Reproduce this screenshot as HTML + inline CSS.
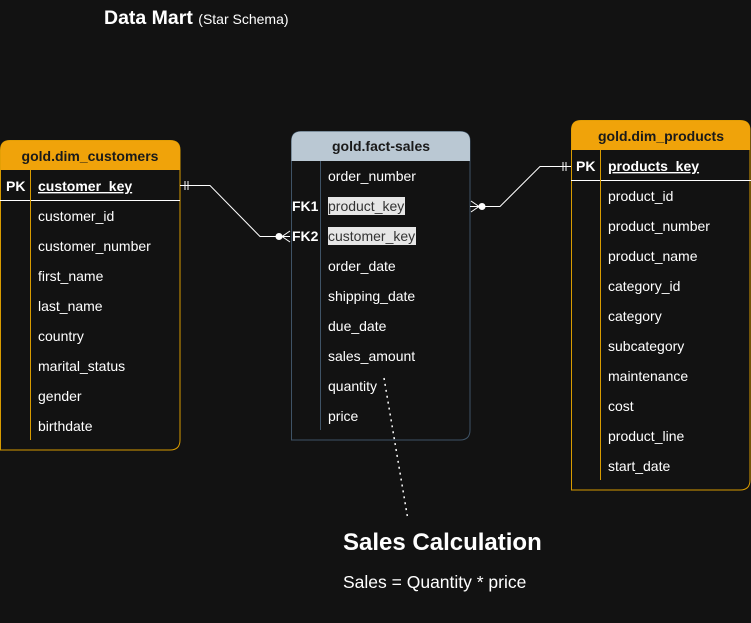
<!DOCTYPE html>
<html><head><meta charset="utf-8"><style>
html,body{margin:0;padding:0;background:#121212;}
svg{display:block;font-family:"Liberation Sans",Arial,sans-serif;}
</style></head><body>
<svg width="751" height="623" viewBox="0 0 751 623" xmlns="http://www.w3.org/2000/svg">
<rect width="751" height="623" fill="#121212"/>
<text x="104" y="24" fill="#fff" font-size="19.5" font-weight="bold">Data Mart <tspan font-size="14" font-weight="normal">(Star Schema)</tspan></text>

<!-- customers -->
<path d="M0.5 450 L0.5 150 Q0.5 140.5 10 140.5 L170 140.5 Q180 140.5 180 150 L180 440 Q180 450 170 450 Z" fill="#121212" stroke="#D79B00" stroke-width="1"/>
<path d="M0.5 170 L0.5 150 Q0.5 140.5 10 140.5 L170 140.5 Q180 140.5 180 150 L180 170 Z" fill="#F0A30A"/>
<text x="90" y="161" fill="#1a1a1a" font-size="14" font-weight="bold" text-anchor="middle">gold.dim_customers</text>
<line x1="0" y1="200.5" x2="180" y2="200.5" stroke="#fff"/>
<line x1="30.5" y1="170" x2="30.5" y2="440" stroke="#D79B00"/>
<g fill="#fff" font-size="14">
<text x="6" y="191" font-weight="bold">PK</text>
<text x="38" y="191" font-weight="bold" text-decoration="underline">customer_key</text>
<text x="38" y="221">customer_id</text>
<text x="38" y="251">customer_number</text>
<text x="38" y="281">first_name</text>
<text x="38" y="311">last_name</text>
<text x="38" y="341">country</text>
<text x="38" y="371">marital_status</text>
<text x="38" y="401">gender</text>
<text x="38" y="431">birthdate</text>
</g>

<!-- fact -->
<path d="M291.5 440 L291.5 141 Q291.5 131.5 301 131.5 L460 131.5 Q470 131.5 470 141 L470 430 Q470 440 460 440 Z" fill="#121212" stroke="#3f5366"/>
<path d="M291.5 161 L291.5 141 Q291.5 131.5 301 131.5 L460 131.5 Q470 131.5 470 141 L470 161 Z" fill="#BAC8D3"/>
<text x="381" y="151" fill="#1a1a1a" font-size="14" font-weight="bold" text-anchor="middle">gold.fact-sales</text>
<line x1="320.5" y1="161" x2="320.5" y2="430" stroke="#3f5366"/>
<rect x="328" y="197" width="77" height="18" fill="#e6e6e6"/>
<rect x="328" y="227" width="88" height="18" fill="#e6e6e6"/>
<g fill="#fff" font-size="14">
<text x="328" y="181">order_number</text>
<text x="292" y="211" font-weight="bold">FK1</text>
<text x="328" y="211" fill="#333">product_key</text>
<text x="292" y="241" font-weight="bold">FK2</text>
<text x="328" y="241" fill="#333">customer_key</text>
<text x="328" y="271">order_date</text>
<text x="328" y="301">shipping_date</text>
<text x="328" y="331">due_date</text>
<text x="328" y="361">sales_amount</text>
<text x="328" y="391">quantity</text>
<text x="328" y="421">price</text>
</g>

<!-- products -->
<path d="M571.5 490 L571.5 130 Q571.5 120.5 581 120.5 L740 120.5 Q750 120.5 750 130 L750 480 Q750 490 740 490 Z" fill="#121212" stroke="#D79B00"/>
<path d="M571.5 150 L571.5 130 Q571.5 120.5 581 120.5 L740 120.5 Q750 120.5 750 130 L750 150 Z" fill="#F0A30A"/>
<text x="661" y="141" fill="#1a1a1a" font-size="14" font-weight="bold" text-anchor="middle">gold.dim_products</text>
<line x1="571" y1="180.5" x2="751" y2="180.5" stroke="#fff"/>
<line x1="600.5" y1="150" x2="600.5" y2="480" stroke="#D79B00"/>
<g fill="#fff" font-size="14">
<text x="576" y="171" font-weight="bold">PK</text>
<text x="608" y="171" font-weight="bold" text-decoration="underline">products_key</text>
<text x="608" y="201">product_id</text>
<text x="608" y="231">product_number</text>
<text x="608" y="261">product_name</text>
<text x="608" y="291">category_id</text>
<text x="608" y="321">category</text>
<text x="608" y="351">subcategory</text>
<text x="608" y="381">maintenance</text>
<text x="608" y="411">cost</text>
<text x="608" y="441">product_line</text>
<text x="608" y="471">start_date</text>
</g>

<!-- connectors -->
<g stroke="#fff" stroke-width="1" fill="none">
<polyline points="180,185.5 210,185.5 260,236.5 290,236.5"/>
<line x1="185" y1="181" x2="185" y2="190"/><line x1="188" y1="181" x2="188" y2="190"/>
<polyline points="290,231 282,236.5 290,242"/>
<polyline points="470,206.5 500,206.5 540,166.5 571,166.5"/>
<line x1="563" y1="162" x2="563" y2="171"/><line x1="566" y1="162" x2="566" y2="171"/>
<polyline points="471,201 479,206.5 471,212"/>
<line x1="384" y1="378" x2="408" y2="520" stroke-dasharray="2,4" stroke-width="1.5"/>
</g>
<circle cx="279" cy="236.5" r="3.5" fill="#fff"/>
<circle cx="482" cy="206.5" r="3.5" fill="#fff"/>

<text x="343" y="550" fill="#fff" font-size="24" font-weight="bold">Sales Calculation</text>
<text x="343" y="588" fill="#fff" font-size="17.5">Sales = Quantity * price</text>
</svg>
</body></html>
